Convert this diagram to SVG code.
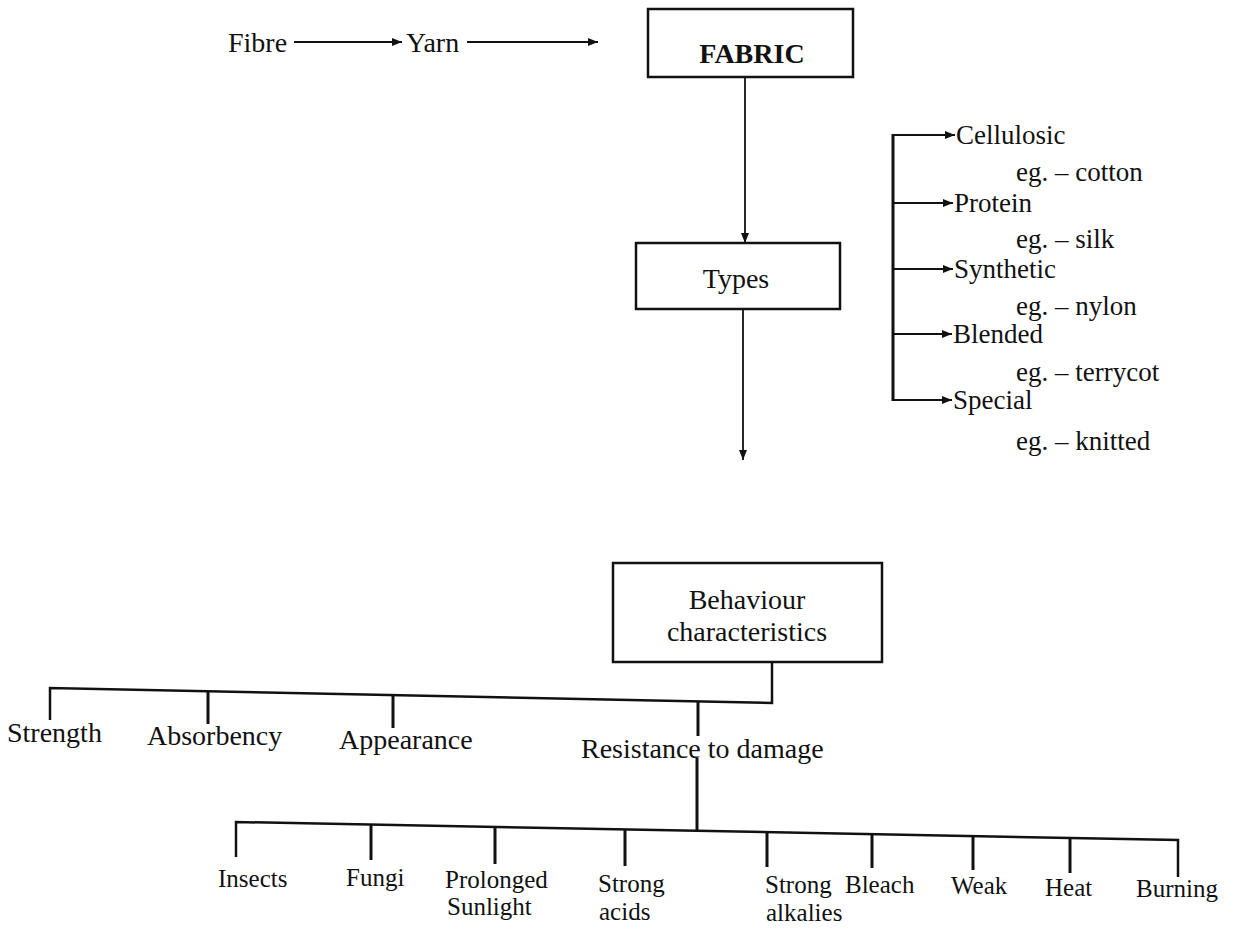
<svg xmlns="http://www.w3.org/2000/svg" width="1236" height="932" viewBox="0 0 1236 932">
<defs>
<marker id="ah" viewBox="0 0 10 8" refX="10" refY="4" markerWidth="10" markerHeight="8" markerUnits="userSpaceOnUse" orient="auto">
<path d="M0,0 L10,4 L0,8 Z" fill="#111"/>
</marker>
<style>
text{font-family:"Liberation Serif","Times New Roman",serif;fill:#111}
.t{font-size:28px}
.s{font-size:25px}
.r{font-size:27px}
.b{font-size:28px;font-weight:bold}
.box{fill:#fff;stroke:#111;stroke-width:2.5}
.ln{fill:none;stroke:#111;stroke-width:2.5}
.tk{fill:none;stroke:#111;stroke-width:3}
.ar{fill:none;stroke:#111;stroke-width:1.8;marker-end:url(#ah)}
</style>
</defs>
<rect width="1236" height="932" fill="#fff"/>
<g id="connectors">
<line class="ar" x1="294" y1="42" x2="402" y2="42"/>
<line class="ar" x1="467" y1="42" x2="598" y2="42"/>
<line class="ar" x1="745" y1="77" x2="745" y2="243"/>
<line class="ar" x1="743" y1="309" x2="743" y2="460"/>
<line class="tk" x1="893" y1="134" x2="893" y2="401"/>
<line class="ar" x1="893" y1="135" x2="955" y2="135"/>
<line class="ar" x1="893" y1="203" x2="953" y2="203"/>
<line class="ar" x1="893" y1="269" x2="953" y2="269"/>
<line class="ar" x1="893" y1="334" x2="952" y2="334"/>
<line class="ar" x1="893" y1="400" x2="952" y2="400"/>
<polyline class="ln" points="772,662 772,703 50,688 50,720"/>
<line class="tk" x1="208" y1="692" x2="208" y2="724"/>
<line class="tk" x1="393" y1="696" x2="393" y2="728"/>
<line class="tk" x1="698" y1="702" x2="698" y2="736"/>
<line class="tk" x1="697" y1="758" x2="697" y2="831"/>
<polyline class="ln" points="236,857 236,822 1178,840 1178,877"/>
<line class="tk" x1="371" y1="825" x2="371" y2="860"/>
<line class="tk" x1="495" y1="827" x2="495" y2="864"/>
<line class="tk" x1="625" y1="829" x2="625" y2="866"/>
<line class="tk" x1="767" y1="832" x2="767" y2="867"/>
<line class="tk" x1="872" y1="834" x2="872" y2="868"/>
<line class="tk" x1="973" y1="836" x2="973" y2="870"/>
<line class="tk" x1="1070" y1="838" x2="1070" y2="873"/>
</g>
<g id="fibre"><text class="t" x="228" y="52">Fibre</text></g>
<g id="yarn"><text class="t" x="406" y="52">Yarn</text></g>
<g id="fabric"><rect class="box" x="648" y="9" width="205" height="68"/><text class="b" x="752" y="63" text-anchor="middle">FABRIC</text></g>
<g id="types"><rect class="box" x="636" y="243" width="204" height="66"/><text class="t" x="736" y="288" text-anchor="middle">Types</text></g>
<g id="cellulosic"><text class="r" x="956" y="144">Cellulosic</text><text class="r" x="1016" y="181">eg. – cotton</text></g>
<g id="protein"><text class="r" x="954" y="212">Protein</text><text class="r" x="1016" y="248">eg. – silk</text></g>
<g id="synthetic"><text class="r" x="954" y="278">Synthetic</text><text class="r" x="1016" y="315">eg. – nylon</text></g>
<g id="blended"><text class="r" x="953" y="343">Blended</text><text class="r" x="1016" y="381">eg. – terrycot</text></g>
<g id="special"><text class="r" x="953" y="409">Special</text><text class="r" x="1016" y="450">eg. – knitted</text></g>
<g id="behaviour"><rect class="box" x="613" y="563" width="269" height="99"/><text class="t" x="747" y="609" text-anchor="middle">Behaviour</text><text class="t" x="747" y="641" text-anchor="middle">characteristics</text></g>
<g id="strength"><text class="t" x="7" y="742">Strength</text></g>
<g id="absorbency"><text class="t" x="147" y="745">Absorbency</text></g>
<g id="appearance"><text class="t" x="339" y="749">Appearance</text></g>
<g id="resistance"><text class="t" x="581" y="758">Resistance to damage</text></g>
<g id="insects"><text class="s" x="218" y="887">Insects</text></g>
<g id="fungi"><text class="s" x="346" y="886">Fungi</text></g>
<g id="sunlight"><text class="s" x="445" y="888">Prolonged</text><text class="s" x="447" y="915">Sunlight</text></g>
<g id="acids"><text class="s" x="598" y="892">Strong</text><text class="s" x="599" y="920">acids</text></g>
<g id="alkalies"><text class="s" x="765" y="893">Strong</text><text class="s" x="766" y="921">alkalies</text></g>
<g id="bleach"><text class="s" x="845" y="893">Bleach</text></g>
<g id="weak"><text class="s" x="951" y="894">Weak</text></g>
<g id="heat"><text class="s" x="1045" y="896">Heat</text></g>
<g id="burning"><text class="s" x="1136" y="897">Burning</text></g>
</svg>
